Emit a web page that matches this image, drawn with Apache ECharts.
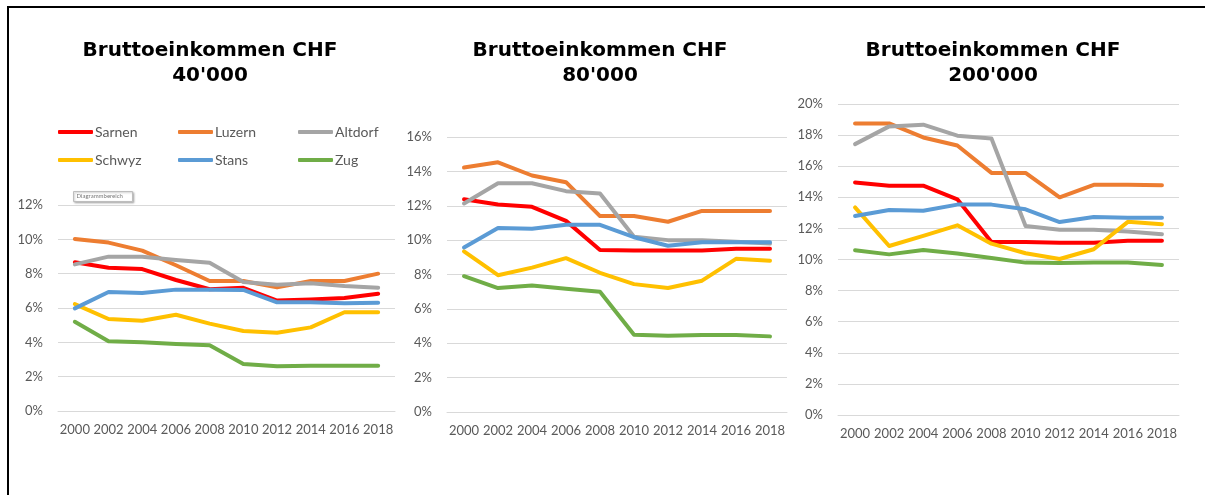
<!DOCTYPE html>
<html>
<head>
<meta charset="utf-8">
<script src="https://cdn.jsdelivr.net/npm/echarts@6/dist/echarts.min.js"></script>
<style>
  html, body { margin: 0; padding: 0; background: #fff; }
  #myChart { width: 1205px; height: 495px; }
</style>
</head>
<body>
<div id="myChart"></div>
<script>
const years = ["2000", "2002", "2004", "2006", "2008", "2010", "2012", "2014", "2016", "2018"];
const places = ["Sarnen", "Luzern", "Altdorf", "Schwyz", "Stans", "Zug"];
const colors = ["#ff0000", "#ed7d31", "#a5a5a5", "#ffc000", "#5b9bd5", "#70ad47"];
const incomes = ["40'000", "80'000", "200'000"];
const axisMax = [12, 16, 20];

// Bruttoeinkommen CHF 40'000 (in %)
const sarnen40 = [8.66, 8.35, 8.27, 7.63, 7.09, 7.18, 6.43, 6.5, 6.58, 6.83];
const luzern40 = [10.02, 9.81, 9.34, 8.49, 7.57, 7.57, 7.2, 7.57, 7.57, 8.0];
const altdorf40 = [8.54, 8.99, 8.99, 8.8, 8.64, 7.51, 7.36, 7.44, 7.28, 7.18];
const schwyz40 = [6.23, 5.36, 5.26, 5.61, 5.09, 4.66, 4.56, 4.87, 5.75, 5.75];
const stans40 = [5.98, 6.93, 6.87, 7.07, 7.07, 7.05, 6.33, 6.33, 6.27, 6.31];
const zug40 = [5.2, 4.06, 4.0, 3.9, 3.83, 2.74, 2.6, 2.64, 2.64, 2.64];

// Bruttoeinkommen CHF 80'000
const sarnen80 = [12.38, 12.07, 11.94, 11.12, 9.42, 9.4, 9.4, 9.4, 9.5, 9.5];
const luzern80 = [14.22, 14.53, 13.76, 13.37, 11.4, 11.4, 11.07, 11.7, 11.7, 11.7];
const altdorf80 = [12.13, 13.31, 13.31, 12.85, 12.71, 10.19, 10.0, 10.0, 9.9, 9.8];
const schwyz80 = [9.35, 7.96, 8.4, 8.95, 8.1, 7.44, 7.21, 7.64, 8.91, 8.8];
const stans80 = [9.57, 10.7, 10.66, 10.89, 10.89, 10.17, 9.67, 9.88, 9.88, 9.88];
const zug80 = [7.9, 7.21, 7.36, 7.17, 7.0, 4.5, 4.44, 4.48, 4.48, 4.4];

// Bruttoeinkommen CHF 200'000
const sarnen200 = [14.95, 14.75, 14.75, 13.87, 11.13, 11.13, 11.07, 11.07, 11.2, 11.2];
const luzern200 = [18.75, 18.75, 17.85, 17.33, 15.57, 15.57, 14.0, 14.8, 14.8, 14.77];
const altdorf200 = [17.42, 18.56, 18.67, 17.96, 17.78, 12.15, 11.91, 11.91, 11.8, 11.63];
const schwyz200 = [13.35, 10.87, 11.52, 12.2, 11.02, 10.4, 10.03, 10.66, 12.42, 12.27];
const stans200 = [12.8, 13.18, 13.14, 13.53, 13.53, 13.23, 12.41, 12.73, 12.69, 12.69];
const zug200 = [10.59, 10.33, 10.61, 10.38, 10.1, 9.8, 9.77, 9.8, 9.8, 9.65];

const tables = [
  [sarnen40, luzern40, altdorf40, schwyz40, stans40, zug40],
  [sarnen80, luzern80, altdorf80, schwyz80, stans80, zug80],
  [sarnen200, luzern200, altdorf200, schwyz200, stans200, zug200],
];

const labelFont = "Lato, 'Open Sans', sans-serif";
const grids = [
  { left: 58, top: 205, width: 337, height: 206 },
  { left: 447, top: 137, width: 340, height: 275 },
  { left: 838, top: 104, width: 341, height: 311 },
];
const titleX = [205, 595, 988];

const option = {
  backgroundColor: "#fff",
  animation: false,
  title: [],
  legend: [],
  grid: grids,
  xAxis: [],
  yAxis: [],
  series: [],
  graphic: [
    // rahmen oben / links
    { type: "line", shape: { x1: 7, y1: 7, x2: 1205, y2: 7 }, style: { stroke: "#000", lineWidth: 2 } },
    { type: "line", shape: { x1: 8, y1: 6, x2: 8, y2: 495 }, style: { stroke: "#000", lineWidth: 2 } },
    // excel-tooltip "Diagrammbereich"
    {
      type: "group", left: 73, top: 191,
      children: [
        { type: "rect", shape: { x: 0, y: 0, width: 59, height: 10 },
          style: { fill: "#fff", stroke: "#bdbdbd", lineWidth: 1, shadowBlur: 2, shadowColor: "rgba(0,0,0,0.25)", shadowOffsetX: 1, shadowOffsetY: 1 } },
        { type: "text", x: 3, y: 2, style: { text: "Diagrammbereich", fontSize: 6, fill: "#777", fontFamily: labelFont } },
      ],
    },
  ],
};

for (let g = 0; g < 3; g++) {
  option.title.push({
    text: "Bruttoeinkommen CHF\n" + incomes[g],
    left: titleX[g],
    top: 33,
    textAlign: "center",
    textStyle: { fontFamily: "'DejaVu Sans', Verdana, sans-serif", fontWeight: "bold", fontSize: 20, lineHeight: 25, color: "#000" },
  });
  option.xAxis.push({
    type: "category",
    gridIndex: g,
    data: years,
    boundaryGap: true,
    axisLine: { lineStyle: { color: "#d9d9d9", width: 1 } },
    axisTick: { show: false },
    axisLabel: { color: "#595959", fontSize: 13, fontFamily: labelFont, margin: 12, interval: 0 },
  });
  option.yAxis.push({
    type: "value",
    gridIndex: g,
    min: 0,
    max: axisMax[g],
    interval: 2,
    axisLine: { show: false },
    axisTick: { show: false },
    splitLine: { lineStyle: { color: "#d9d9d9", width: 1 } },
    axisLabel: { color: "#595959", fontSize: 13, fontFamily: labelFont, margin: 15, formatter: "{value}%" },
  });
  for (let i = 0; i < places.length; i++) {
    option.series.push({
      type: "line",
      name: places[i],
      xAxisIndex: g,
      yAxisIndex: g,
      data: tables[g][i],
      color: colors[i],
      showSymbol: false,
      symbol: "none",
      lineStyle: { width: 4, color: colors[i], cap: "round", join: "round" },
    });
  }
}

// legende nur im ersten diagramm, 3 spalten x 2 zeilen
const legendLeft = [53, 173, 293];
const legendTop = [120, 148];
for (let i = 0; i < places.length; i++) {
  option.legend.push({
    data: [places[i]],
    left: legendLeft[i % 3],
    top: legendTop[Math.floor(i / 3)],
    icon: "roundRect",
    itemWidth: 35,
    itemHeight: 4,
    itemGap: 0,
    textStyle: { color: "#595959", fontSize: 14, fontFamily: labelFont, padding: [0, 0, 0, -3] },
  });
}

const myChart = echarts.init(document.getElementById("myChart"));
myChart.setOption(option);
</script>
</body>
</html>
